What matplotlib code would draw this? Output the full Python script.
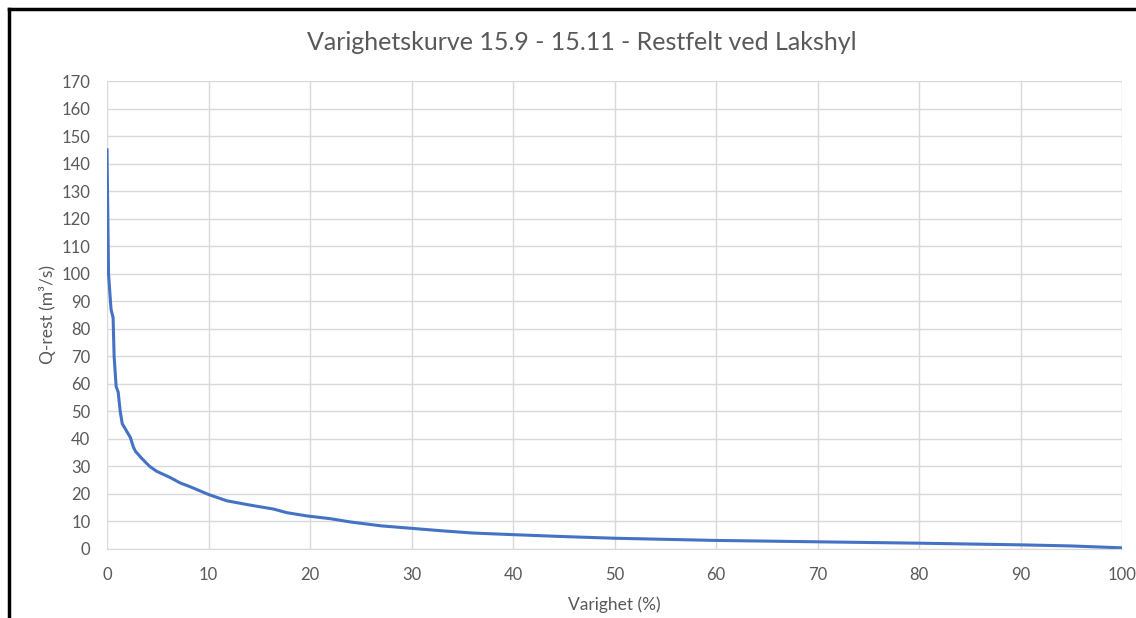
import matplotlib.pyplot as plt
from matplotlib.lines import Line2D


duration = [0, 0.05, 0.1, 0.15, 0.3, 0.4, 0.6, 0.7, 0.9, 1.1, 1.3, 1.5,
            1.9, 2.3, 2.6, 2.8, 3.4, 4.2, 4.9, 6.2, 7.2, 8.2, 10, 11.8,
            14, 16.4, 17.7, 19.7, 22, 24, 27, 30, 33, 36, 40, 45, 50, 55,
            60, 70, 80, 90, 95, 100]
flow = [145, 130, 115, 100, 92, 87, 84, 70, 59, 57, 50, 45.5,
        43, 40.5, 37, 35.5, 33, 30, 28.2, 26, 24, 22.6, 19.8, 17.5,
        16, 14.5, 13.2, 12, 11, 9.8, 8.4, 7.5, 6.6, 5.8, 5.2, 4.5, 3.9, 3.5,
        3.1, 2.6, 2.1, 1.5, 1.1, 0.4]

x_ticks = list(range(0, 101, 10))
y_ticks = list(range(0, 171, 10))

TEXT = "#595959"
GRID = "#D9D9D9"
LINE = "#4472C4"


def main():
    plt.rcParams["font.family"] = ["Lato", "DejaVu Sans"]

    fig = plt.figure(figsize=(11.36, 6.18), dpi=100)
    ax = fig.add_axes([0.0942, 0.1117, 0.8935, 0.7572])

    ax.plot(duration, flow, color=LINE, linewidth=2.2, solid_joinstyle="round")

    ax.set_xlim(0, 100)
    ax.set_ylim(0, 170)
    ax.set_xticks(x_ticks)
    ax.set_yticks(y_ticks)
    ax.tick_params(axis="y", length=0, labelsize=12, labelcolor=TEXT, pad=12)
    ax.tick_params(axis="x", length=0, labelsize=12, labelcolor=TEXT, pad=13)
    ax.grid(color=GRID, linewidth=1)
    ax.set_axisbelow(True)
    for side in ["top", "right", "left"]:
        ax.spines[side].set_visible(False)
    ax.spines["bottom"].set_color(GRID)

    ax.set_xlabel("Varighet (%)", fontsize=12.5, color=TEXT, labelpad=10)
    ax.set_ylabel("Q-rest (m³/s)", fontsize=12.5, color=TEXT, labelpad=4)
    fig.text(0.512, 0.932, "Varighetskurve 15.9 - 15.11 - Restfelt ved Lakshyl",
             ha="center", va="center", fontsize=18, color=TEXT)

    # screenshot frame: left and top edges only
    fig.add_artist(Line2D([0.0075, 0.0075], [0, 0.985], color="black",
                          linewidth=2.5, transform=fig.transFigure))
    fig.add_artist(Line2D([0.0075, 1], [0.985, 0.985], color="black",
                          linewidth=2.5, transform=fig.transFigure))

    fig.savefig("out.png", facecolor="white")
    plt.close(fig)


if __name__ == "__main__":
    main()
